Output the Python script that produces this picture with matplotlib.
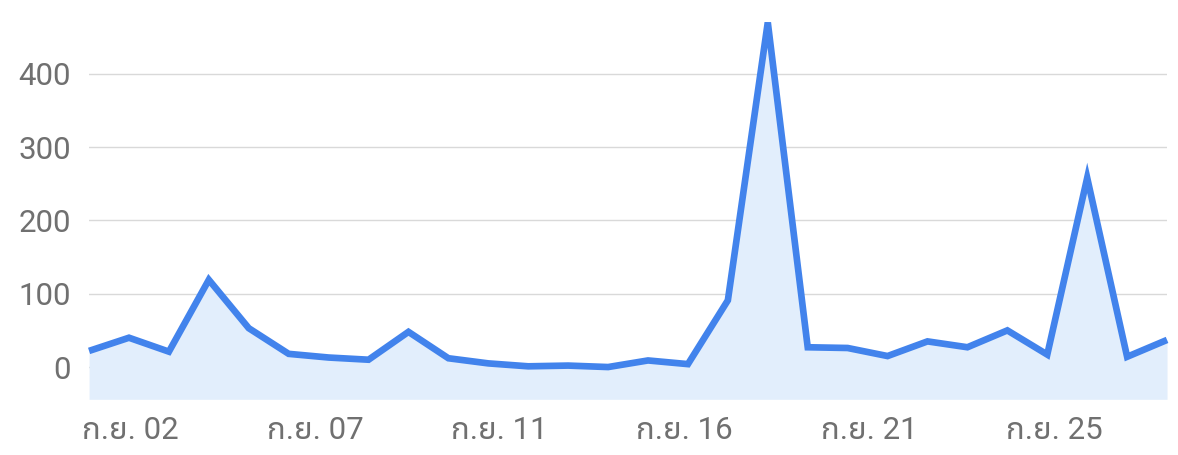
import numpy as np
import matplotlib
matplotlib.use("Agg")
import matplotlib.pyplot as plt

# ข้อมูลรายวัน ก.ย. 01 - ก.ย. 28
days = np.arange(1, 29)
values = [22, 40, 21, 119, 53, 18, 13, 10, 48, 12,
          5, 1, 2, 0, 9, 4, 91, 470, 27, 26,
          15, 35, 27, 50, 17, 258, 14, 37]
tick_labels = ["ก.ย. 02", "ก.ย. 07", "ก.ย. 11", "ก.ย. 16", "ก.ย. 21", "ก.ย. 25"]
y_ticks = [0, 100, 200, 300, 400]

plt.rcParams['font.family'] = ['Roboto', 'Noto Sans Thai UI', 'DejaVu Sans']

line_color = '#4283ec'
fill_color = '#e2eefc'
text_color = '#707070'

fig = plt.figure(figsize=(11.78, 4.55), dpi=100)
ax = fig.add_axes([0.0756, 0.1224, 0.9151, 0.8556])

y_bottom = -44
ax.fill_between(days, values, y_bottom, color=fill_color, linewidth=0)
ax.plot(days, values, color=line_color, lw=4.8, solid_joinstyle='miter',
        solid_capstyle='butt', clip_on=False, zorder=3)

ax.set_xlim(days[0], days[-1])
ax.set_ylim(y_bottom, 487)

ax.set_yticks(y_ticks)
ax.set_yticklabels([str(v) for v in y_ticks])
ax.grid(axis='y', color='#d9d9d9', lw=1.0)
ax.set_axisbelow(True)

# ตำแหน่งป้ายแกน x วางห่างเท่ากัน
ax.set_xticks(np.linspace(2.03, 25.17, len(tick_labels)))
ax.set_xticklabels(tick_labels)

ax.tick_params(axis='both', length=0, labelsize=22.5, labelcolor=text_color)
ax.tick_params(axis='y', pad=13)
ax.tick_params(axis='x', pad=12)

for s in ax.spines.values():
    s.set_visible(False)

fig.savefig("out.png", dpi=100)
